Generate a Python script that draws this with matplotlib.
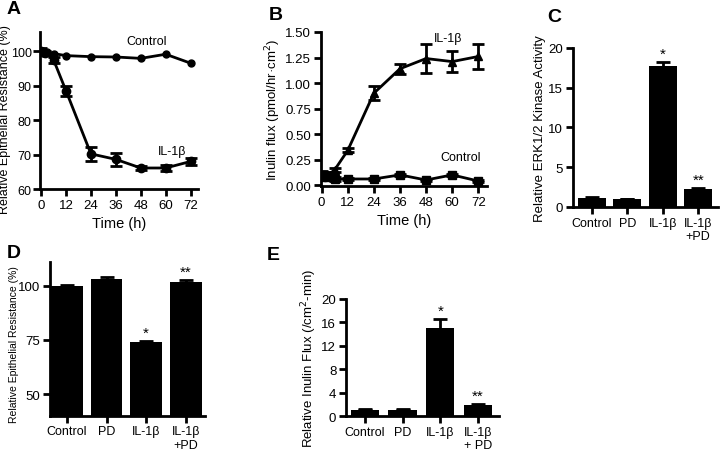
import matplotlib
matplotlib.use("Agg")
import matplotlib.pyplot as plt

plt.rcParams['font.family'] = ['Liberation Sans', 'DejaVu Sans']
plt.rcParams['axes.linewidth'] = 2
plt.rcParams['xtick.major.width'] = 2
plt.rcParams['ytick.major.width'] = 2
plt.rcParams['xtick.major.size'] = 5
plt.rcParams['ytick.major.size'] = 5
plt.rcParams['xtick.labelsize'] = 9.5
plt.rcParams['ytick.labelsize'] = 9.5

# --- A: TER over time ---
timeA_ctrl = [0, 1, 3, 6, 12, 24, 36, 48, 60, 72]
terCtrl = [100, 99.5, 99.8, 99.3, 98.7, 98.4, 98.3, 97.9, 99.1, 96.5]
timeA_il = [0, 2, 6, 12, 24, 36, 48, 60, 72]
terIl = [100, 99.5, 97.5, 88.5, 70.2, 68.6, 66.1, 66.1, 68.0]
terIlErr = [0.8, 0.6, 0.8, 1.5, 2.0, 1.8, 0.5, 1.0, 1.0]

# --- B: inulin flux over time ---
timeB = [0, 3, 6, 12, 24, 36, 48, 60, 72]
fluxIl = [0.08, 0.10, 0.15, 0.34, 0.90, 1.14, 1.24, 1.21, 1.26]
fluxIlErr = [0.03, 0.03, 0.02, 0.02, 0.07, 0.05, 0.14, 0.10, 0.12]
fluxCtrl = [0.10, 0.08, 0.06, 0.06, 0.06, 0.10, 0.05, 0.10, 0.04]
fluxCtrlErr = [0.04, 0.03, 0.02, 0.01, 0.01, 0.01, 0.01, 0.01, 0.01]

# --- bar panels ---
gruppi = ['Control', 'PD', 'IL-1β', 'IL-1β\n+PD']
gruppiE = ['Control', 'PD', 'IL-1β', 'IL-1β\n+ PD']
erk = [1.1, 1.0, 17.7, 2.2]
erkErr = [0.2, 0.05, 0.5, 0.15]
terBar = [100, 103, 74.2, 102]
terBarErr = [0.3, 1.0, 0.5, 0.6]
inulinBar = [1.1, 1.1, 15.0, 1.9]
inulinBarErr = [0.05, 0.05, 1.5, 0.2]
stelle = ['', '', '*', '**']

fig = plt.figure(figsize=(7.2, 4.52), dpi=100)

def sistema(ax):
    ax.spines['top'].set_visible(False)
    ax.spines['right'].set_visible(False)
    ax.tick_params(direction='out', pad=2)

# A
axA = fig.add_axes([0.0556, 0.5796, 0.219, 0.347])
axA.plot(timeA_ctrl, terCtrl, color='black', lw=2, marker='o', markersize=5)
axA.errorbar(timeA_il, terIl, yerr=terIlErr, color='black', lw=2, marker='o',
             markersize=6, capsize=4, capthick=2, elinewidth=2)
axA.set_xlim(-0.5, 75.4)
axA.set_ylim(60, 105.5)
axA.set_xticks([0, 12, 24, 36, 48, 60, 72])
axA.set_yticks([60, 70, 80, 90, 100])
axA.set_xlabel('Time (h)', fontsize=10.5)
axA.set_ylabel('Relative Epithelial Resistance (%)', fontsize=9)
axA.yaxis.set_label_coords(-0.185, 0.45)
axA.text(51, 103, 'Control', fontsize=9, ha='center', va='center')
axA.text(63, 71, 'IL-1β', fontsize=9, ha='center', va='center')
sistema(axA)
axA.tick_params(axis='y', labelsize=9, pad=1)

# B
axB = fig.add_axes([0.4458, 0.586, 0.2306, 0.341])
axB.errorbar(timeB, fluxIl, yerr=fluxIlErr, color='black', lw=2, marker='^',
             markersize=6, capsize=4, capthick=2, elinewidth=2)
axB.errorbar(timeB, fluxCtrl, yerr=fluxCtrlErr, color='black', lw=2, marker='s',
             markersize=6, capsize=4, capthick=2, elinewidth=2)
axB.set_xlim(-0.3, 76)
axB.set_ylim(-0.01, 1.5)
axB.set_xticks([0, 12, 24, 36, 48, 60, 72])
axB.set_yticks([0, 0.25, 0.5, 0.75, 1.0, 1.25, 1.5])
axB.set_yticklabels(['0.00', '0.25', '0.50', '0.75', '1.00', '1.25', '1.50'])
axB.set_xlabel('Time (h)', fontsize=10.5)
axB.set_ylabel('Inulin flux (pmol/hr·cm$^2$)', fontsize=9.5, labelpad=2)
axB.text(58, 1.44, 'IL-1β', fontsize=9, ha='center', va='center')
axB.text(64, 0.28, 'Control', fontsize=9, ha='center', va='center')
sistema(axB)

def barre(ax, valori, errori, etichette, larghezza, ymax_off):
    x = range(len(valori))
    ax.bar(x, valori, width=larghezza, color='black')
    ax.errorbar(x, valori, yerr=errori, fmt='none', ecolor='black',
                capsize=5, capthick=2, elinewidth=2)
    for i, s in enumerate(stelle):
        if s:
            ax.text(i, valori[i] + errori[i] + ymax_off, s, ha='center',
                    va='bottom', fontsize=11)
    ax.set_xticks(list(x))
    ax.set_xticklabels(etichette, fontsize=9, linespacing=1.15)
    sistema(ax)

# C
axC = fig.add_axes([0.7958, 0.540, 0.201, 0.352])
barre(axC, erk, erkErr, gruppi, 0.8, 0.2)
axC.set_xlim(-0.53, 3.55)
axC.set_ylim(0, 20)
axC.set_yticks([0, 5, 10, 15, 20])
axC.set_ylabel('Relative ERK1/2 Kinase Activity', fontsize=9.5, labelpad=2)

# D
axD = fig.add_axes([0.0694, 0.078, 0.215, 0.34])
barre(axD, terBar, terBarErr, gruppi, 0.8, 0.5)
axD.set_xlim(-0.43, 3.48)
axD.set_ylim(40, 111)
axD.set_yticks([50, 75, 100])
axD.set_ylabel('Relative Epithelial Resistance (%)', fontsize=7.5)
axD.yaxis.set_label_coords(-0.2, 0.47)

# E
axE = fig.add_axes([0.4806, 0.0774, 0.2125, 0.259])
barre(axE, inulinBar, inulinBarErr, gruppiE, 0.75, 0.2)
axE.set_xlim(-0.5, 3.56)
axE.set_ylim(0, 20)
axE.set_yticks([0, 4, 8, 12, 16, 20])
axE.set_ylabel('Relative Inulin Flux (/cm$^2$-min)', fontsize=9.5, labelpad=2)

# lettere pannelli
for lettera, px, py in [('A', 7, 10), ('B', 269, 15), ('C', 547, 17),
                        ('D', 7, 253), ('E', 267, 255)]:
    fig.text(px / 720, 1 - py / 452, lettera, fontsize=14, fontweight='bold',
             ha='left', va='center')

fig.savefig('out.png', dpi=100)
